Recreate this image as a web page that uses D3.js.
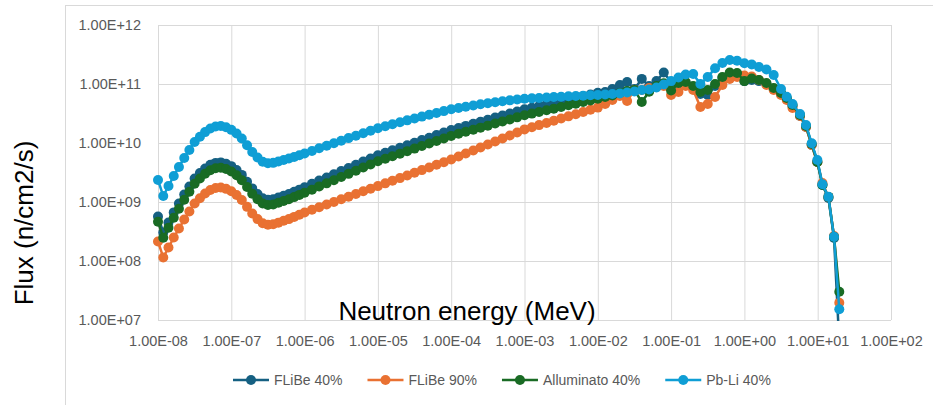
<!DOCTYPE html>
<html>
<head>
<meta charset="utf-8">
<script src="https://cdn.jsdelivr.net/npm/d3@7"></script>
<style>
  body { margin: 0; background: #fff; }
  text { font-family: "Liberation Sans", Arial, sans-serif; }
</style>
</head>
<body>
<script>

// neutron energy (MeV)
var energies = [
  1.00e-8, 1.18e-8, 1.39e-8, 1.64e-8, 1.93e-8, 2.28e-8, 2.68e-8, 3.16e-8, 3.73e-8, 4.39e-8, 5.18e-8, 6.11e-8, 7.20e-8, 8.48e-8,
  1.00e-7, 1.18e-7, 1.39e-7, 1.64e-7, 1.93e-7, 2.28e-7, 2.68e-7, 3.16e-7, 3.73e-7, 4.39e-7, 5.18e-7, 6.11e-7, 7.20e-7, 8.48e-7,
  1.00e-6, 1.26e-6, 1.58e-6, 2.00e-6, 2.51e-6, 3.16e-6, 3.98e-6, 5.01e-6, 6.31e-6, 7.94e-6,
  1.00e-5, 1.26e-5, 1.58e-5, 2.00e-5, 2.51e-5, 3.16e-5, 3.98e-5, 5.01e-5, 6.31e-5, 7.94e-5,
  1.00e-4, 1.26e-4, 1.58e-4, 2.00e-4, 2.51e-4, 3.16e-4, 3.98e-4, 5.01e-4, 6.31e-4, 7.94e-4,
  1.00e-3, 1.26e-3, 1.58e-3, 2.00e-3, 2.51e-3, 3.16e-3, 3.98e-3, 5.01e-3, 6.31e-3, 7.94e-3,
  1.00e-2, 1.26e-2, 1.58e-2, 2.00e-2, 2.51e-2, 3.16e-2, 3.98e-2, 5.01e-2, 6.31e-2, 7.94e-2,
  1.00e-1, 1.26e-1, 1.58e-1, 2.00e-1, 2.51e-1, 3.16e-1, 3.98e-1, 5.01e-1, 6.31e-1, 7.94e-1,
  1.00, 1.26, 1.58, 2.00, 2.51, 3.16,
  3.78, 4.53, 5.74, 6.92, 8.28, 9.89, 11.6, 14.0, 16.7, 19.7
];

// flux (n/cm2/s)
var flibe40 = [
  5.69e8, 3.05e8, 4.50e8, 6.67e8, 9.46e8, 1.34e9, 1.83e9, 2.51e9, 3.09e9, 3.70e9, 4.26e9, 4.60e9, 4.69e9, 4.45e9,
  4.05e9, 3.49e9, 2.88e9, 2.20e9, 1.70e9, 1.37e9, 1.16e9, 1.09e9, 1.11e9, 1.19e9, 1.28e9, 1.37e9, 1.49e9, 1.62e9,
  1.77e9, 2.04e9, 2.32e9, 2.61e9, 2.95e9, 3.34e9, 3.78e9, 4.27e9, 4.84e9, 5.47e9,
  6.17e9, 6.82e9, 7.52e9, 8.30e9, 9.17e9, 1.01e10, 1.12e10, 1.23e10, 1.36e10, 1.50e10,
  1.66e10, 1.80e10, 1.95e10, 2.12e10, 2.29e10, 2.48e10, 2.70e10, 2.92e10, 3.16e10, 3.43e10,
  3.72e10, 3.97e10, 4.23e10, 4.51e10, 4.81e10, 5.13e10, 5.48e10, 5.83e10, 6.22e10, 6.64e10,
  7.08e10, 7.31e10, 8.22e10, 9.62e10, 1.08e11, 8.22e10, 1.22e11, 9.25e10, 1.12e11, 1.57e11,
  1.08e11, 1.00e11, 1.04e11, 8.55e10, 6.77e10, 6.52e10, 9.25e10, 1.26e11, 1.48e11, 1.48e11,
  1.12e11, 1.17e11, 1.12e11, 1.00e11, 8.22e10, 6.77e10,
  5.57e10, 4.24e10, 2.87e10, 1.87e10, 9.25e9, 4.76e9, 1.94e9, 1.17e9, 2.45e8, 4.0e6
];

var flibe90 = [
  2.14e8, 1.15e8, 1.69e8, 2.50e8, 3.55e8, 5.04e8, 6.88e8, 9.43e8, 1.16e9, 1.39e9, 1.60e9, 1.73e9, 1.76e9, 1.67e9,
  1.52e9, 1.31e9, 1.08e9, 8.27e8, 6.38e8, 5.13e8, 4.35e8, 4.11e8, 4.19e8, 4.47e8, 4.81e8, 5.13e8, 5.59e8, 6.10e8,
  6.65e8, 7.38e8, 8.17e8, 9.06e8, 1.00e9, 1.11e9, 1.23e9, 1.37e9, 1.52e9, 1.68e9,
  1.86e9, 2.07e9, 2.29e9, 2.54e9, 2.82e9, 3.13e9, 3.47e9, 3.85e9, 4.27e9, 4.73e9,
  5.25e9, 5.90e9, 6.64e9, 7.46e9, 8.39e9, 9.44e9, 1.06e10, 1.19e10, 1.34e10, 1.51e10,
  1.70e10, 1.85e10, 2.01e10, 2.19e10, 2.39e10, 2.60e10, 2.83e10, 3.08e10, 3.36e10, 3.66e10,
  3.98e10, 4.58e10, 5.36e10, 6.27e10, 5.15e10, 7.91e10, 7.91e10, 8.55e10, 8.89e10, 9.25e10,
  6.52e10, 7.31e10, 9.25e10, 7.91e10, 4.07e10, 4.58e10, 6.03e10, 9.62e10, 1.22e11, 1.31e11,
  1.39e11, 1.34e11, 1.17e11, 9.62e10, 7.91e10, 6.52e10,
  5.36e10, 3.92e10, 2.87e10, 1.87e10, 9.25e9, 4.76e9, 2.10e9, 1.22e9, 2.65e8, 1.96e7
];

var alluminato40 = [
  4.63e8, 2.48e8, 3.66e8, 5.42e8, 7.69e8, 1.09e9, 1.49e9, 2.04e9, 2.51e9, 3.01e9, 3.46e9, 3.74e9, 3.81e9, 3.62e9,
  3.29e9, 2.84e9, 2.34e9, 1.79e9, 1.38e9, 1.11e9, 9.42e8, 8.89e8, 9.06e8, 9.68e8, 1.04e9, 1.11e9, 1.21e9, 1.32e9,
  1.44e9, 1.62e9, 1.84e9, 2.07e9, 2.34e9, 2.65e9, 3.00e9, 3.39e9, 3.84e9, 4.34e9,
  4.90e9, 5.41e9, 5.97e9, 6.59e9, 7.28e9, 8.04e9, 8.87e9, 9.80e9, 1.08e10, 1.19e10,
  1.32e10, 1.43e10, 1.55e10, 1.68e10, 1.82e10, 1.97e10, 2.14e10, 2.32e10, 2.51e10, 2.72e10,
  2.95e10, 3.15e10, 3.36e10, 3.58e10, 3.82e10, 4.07e10, 4.35e10, 4.63e10, 4.94e10, 5.27e10,
  5.62e10, 6.03e10, 6.38e10, 7.03e10, 7.60e10, 7.91e10, 4.95e10, 7.40e10, 9.25e10, 1.03e11,
  7.76e10, 1.04e11, 1.08e11, 9.25e10, 7.31e10, 7.91e10, 1.00e11, 1.31e11, 1.57e11, 1.54e11,
  1.12e11, 1.24e11, 1.17e11, 1.04e11, 8.55e10, 7.03e10,
  5.79e10, 4.41e10, 2.98e10, 1.94e10, 9.62e9, 4.76e9, 1.94e9, 1.22e9, 2.55e8, 3.02e7
];

var pbli40 = [
  2.36e9, 1.26e9, 1.87e9, 2.76e9, 3.92e9, 5.57e9, 7.60e9, 1.04e10, 1.28e10, 1.53e10, 1.76e10, 1.91e10, 1.94e10, 1.85e10,
  1.67e10, 1.45e10, 1.19e10, 9.14e9, 7.03e9, 5.68e9, 4.80e9, 4.53e9, 4.61e9, 4.85e9, 5.15e9, 5.46e9, 5.79e9, 6.19e9,
  6.64e9, 7.34e9, 8.13e9, 8.97e9, 9.91e9, 1.09e10, 1.21e10, 1.33e10, 1.46e10, 1.61e10,
  1.78e10, 1.92e10, 2.08e10, 2.24e10, 2.42e10, 2.61e10, 2.80e10, 3.01e10, 3.23e10, 3.47e10,
  3.72e10, 3.92e10, 4.12e10, 4.33e10, 4.53e10, 4.73e10, 4.92e10, 5.11e10, 5.28e10, 5.46e10,
  5.62e10, 5.71e10, 5.81e10, 5.90e10, 6.00e10, 6.10e10, 6.18e10, 6.27e10, 6.35e10, 6.44e10,
  6.53e10, 6.64e10, 6.77e10, 6.91e10, 7.18e10, 7.46e10, 7.91e10, 8.07e10, 8.73e10, 9.82e10,
  1.12e11, 1.29e11, 1.45e11, 1.48e11, 1.00e11, 1.31e11, 1.85e11, 2.27e11, 2.55e11, 2.48e11,
  2.24e11, 2.14e11, 1.94e11, 1.76e11, 1.42e11, 8.22e10,
  6.10e10, 4.58e10, 3.10e10, 2.02e10, 9.89e9, 5.15e9, 2.00e9, 1.23e9, 2.58e8, 1.52e7
];

var seriesNames = ["FLiBe 40%", "FLiBe 90%", "Alluminato 40%", "Pb-Li 40%"];
var seriesColors = ["#156082", "#e97132", "#196b24", "#0f9ed5"];

var xTicks = [1e-8, 1e-7, 1e-6, 1e-5, 1e-4, 1e-3, 1e-2, 1e-1, 1e0, 1e1, 1e2];
var xTickLabels = ["1.00E-08", "1.00E-07", "1.00E-06", "1.00E-05", "1.00E-04", "1.00E-03",
                   "1.00E-02", "1.00E-01", "1.00E+00", "1.00E+01", "1.00E+02"];
var yTicks = [1e7, 1e8, 1e9, 1e10, 1e11, 1e12];
var yTickLabels = ["1.00E+07", "1.00E+08", "1.00E+09", "1.00E+10", "1.00E+11", "1.00E+12"];

var xTitle = "Neutron energy (MeV)";
var yTitle = "Flux (n/cm2/s)";

var svgConfig = {
  width: 933,
  height: 405,
  margin: { top: 25, right: 42, bottom: 85, left: 158 }
};

var plotW = svgConfig.width - svgConfig.margin.left - svgConfig.margin.right;
var plotH = svgConfig.height - svgConfig.margin.top - svgConfig.margin.bottom;

var svg = d3.select("body").append("svg")
  .attr("width", svgConfig.width)
  .attr("height", svgConfig.height);

// chart frame
svg.append("rect")
  .attr("x", 65.5).attr("y", 5.5)
  .attr("width", 1000).attr("height", 1000)
  .attr("fill", "none")
  .attr("stroke", "#d9d9d9");

var xScale = d3.scaleLog()
  .domain([xTicks[0], xTicks[xTicks.length - 1]])
  .range([svgConfig.margin.left, svgConfig.margin.left + plotW]);

var yScale = d3.scaleLog()
  .domain([yTicks[0], yTicks[yTicks.length - 1]])
  .range([svgConfig.margin.top + plotH, svgConfig.margin.top]);

var xAxis = d3.axisBottom(xScale)
  .tickValues(xTicks)
  .tickFormat(function(d, i) { return xTickLabels[i]; })
  .tickSize(-plotH)
  .tickPadding(16);

var yAxis = d3.axisLeft(yScale)
  .tickValues(yTicks)
  .tickFormat(function(d, i) { return yTickLabels[i]; })
  .tickSize(-plotW)
  .tickPadding(17);

var gx = svg.append("g")
  .attr("transform", "translate(0," + (svgConfig.margin.top + plotH) + ")")
  .call(xAxis);

var gy = svg.append("g")
  .attr("transform", "translate(" + svgConfig.margin.left + ",0)")
  .call(yAxis);

[gx, gy].forEach(function(g) {
  g.select(".domain").remove();
  g.selectAll(".tick line").attr("stroke", "#d9d9d9").attr("stroke-width", 1);
  g.selectAll(".tick text")
    .attr("fill", "#595959")
    .style("font-size", "14.5px")
    .style("font-family", "'Liberation Sans', Arial, sans-serif");
});

// lines are cut at the plot area, markers only a little outside it
svg.append("clipPath").attr("id", "lineClip")
  .append("rect")
  .attr("x", svgConfig.margin.left)
  .attr("y", svgConfig.margin.top)
  .attr("width", plotW)
  .attr("height", plotH + 1);

svg.append("clipPath").attr("id", "markerClip")
  .append("rect")
  .attr("x", svgConfig.margin.left - 8)
  .attr("y", svgConfig.margin.top - 8)
  .attr("width", plotW + 16)
  .attr("height", plotH + 8);

var allSeries = [flibe40, flibe90, alluminato40, pbli40];

var line = d3.line()
  .x(function(d) { return xScale(d[0]); })
  .y(function(d) { return yScale(d[1]); });

allSeries.forEach(function(values, s) {
  var pts = energies.map(function(e, i) { return [e, values[i]]; });
  svg.append("path")
    .attr("clip-path", "url(#lineClip)")
    .attr("d", line(pts))
    .attr("fill", "none")
    .attr("stroke", seriesColors[s])
    .attr("stroke-width", 2.5);
  svg.append("g")
    .attr("clip-path", "url(#markerClip)")
    .selectAll("circle")
    .data(pts.filter(function(d) { return d[1] >= yTicks[0]; }))
    .enter().append("circle")
    .attr("cx", function(d) { return xScale(d[0]); })
    .attr("cy", function(d) { return yScale(d[1]); })
    .attr("r", 5)
    .attr("fill", seriesColors[s]);
});

// axis titles
svg.append("text")
  .attr("x", 467)
  .attr("y", 320)
  .attr("text-anchor", "middle")
  .attr("fill", "#000")
  .style("font-size", "26px")
  .text(xTitle);

svg.append("text")
  .attr("transform", "translate(33,223) rotate(-90)")
  .attr("text-anchor", "middle")
  .attr("fill", "#000")
  .style("font-size", "26px")
  .text(yTitle);

// legend
var legend = svg.append("g").attr("transform", "translate(233,380)");
var lx = 0;
seriesNames.forEach(function(name, s) {
  var item = legend.append("g").attr("transform", "translate(" + lx + ",0)");
  item.append("line")
    .attr("x1", 0).attr("x2", 36)
    .attr("y1", 0).attr("y2", 0)
    .attr("stroke", seriesColors[s])
    .attr("stroke-width", 2.5);
  item.append("circle")
    .attr("cx", 18).attr("cy", 0).attr("r", 5)
    .attr("fill", seriesColors[s]);
  var t = item.append("text")
    .attr("x", 41).attr("y", 5)
    .attr("fill", "#595959")
    .style("font-size", "14px")
    .text(name);
  lx += 41 + t.node().getComputedTextLength() + 25;
});

</script>
</body>
</html>
